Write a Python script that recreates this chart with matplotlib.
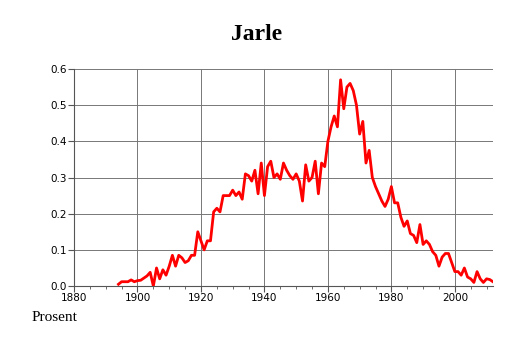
import matplotlib
matplotlib.use("Agg")
import matplotlib.pyplot as plt
from matplotlib.ticker import MultipleLocator, FormatStrFormatter

years = list(range(1894, 2013))
values = [
    0.005, 0.012, 0.012, 0.012, 0.017, 0.012, 0.015, 0.016, 0.022, 0.028,  # 1894-1903
    0.038, 0.0, 0.05, 0.02, 0.045, 0.03, 0.055, 0.085, 0.055, 0.085,        # 1904-1913
    0.078, 0.065, 0.07, 0.085, 0.085, 0.15, 0.125, 0.1, 0.125, 0.125,       # 1914-1923
    0.205, 0.215, 0.205, 0.25, 0.25, 0.25, 0.265, 0.25, 0.26, 0.24,         # 1924-1933
    0.31, 0.305, 0.29, 0.32, 0.255, 0.34, 0.25, 0.33, 0.345, 0.3,           # 1934-1943
    0.31, 0.295, 0.34, 0.32, 0.305, 0.295, 0.31, 0.29, 0.235, 0.335,        # 1944-1953
    0.29, 0.3, 0.345, 0.255, 0.34, 0.33, 0.4, 0.44, 0.47, 0.44,             # 1954-1963
    0.57, 0.49, 0.55, 0.56, 0.54, 0.5, 0.42, 0.455, 0.34, 0.375,            # 1964-1973
    0.3, 0.275, 0.255, 0.235, 0.22, 0.24, 0.275, 0.23, 0.23, 0.19,          # 1974-1983
    0.165, 0.18, 0.145, 0.14, 0.12, 0.17, 0.115, 0.125, 0.115, 0.095,       # 1984-1993
    0.085, 0.055, 0.08, 0.09, 0.09, 0.065, 0.04, 0.04, 0.03, 0.05,          # 1994-2003
    0.025, 0.02, 0.01, 0.04, 0.02, 0.01, 0.02, 0.018, 0.012,                # 2004-2012
]

fig = plt.figure(figsize=(5.14, 3.43), dpi=100)
ax = fig.add_axes([0.144, 0.166, 0.815, 0.633])

ax.plot(years, values, color="red", linewidth=2.0, zorder=3)

ax.set_xlim(1880, 2012)
ax.set_ylim(0, 0.6)
ax.xaxis.set_major_locator(MultipleLocator(20))
ax.xaxis.set_minor_locator(MultipleLocator(5))
ax.yaxis.set_major_locator(MultipleLocator(0.1))
ax.yaxis.set_major_formatter(FormatStrFormatter("%.1f"))
ax.grid(True, which="major", color="#777777", linewidth=0.7)
ax.set_axisbelow(True)
for side in ("top", "right"):
    ax.spines[side].set_visible(False)
for side in ("left", "bottom"):
    ax.spines[side].set_color("#555555")
    ax.spines[side].set_linewidth(0.8)
ax.tick_params(axis="both", which="major", labelsize=7.5, length=4, width=0.8,
               color="#555555", pad=1)
ax.tick_params(axis="x", which="minor", length=2, width=0.6, color="#555555")

fig.text(0.5, 0.9, "Jarle", ha="center", va="center", fontsize=17,
         fontweight="bold", family="Liberation Serif")
fig.text(0.062, 0.073, "Prosent", ha="left", va="center", fontsize=11,
         family="Liberation Serif")

fig.savefig("out.png", dpi=100)
